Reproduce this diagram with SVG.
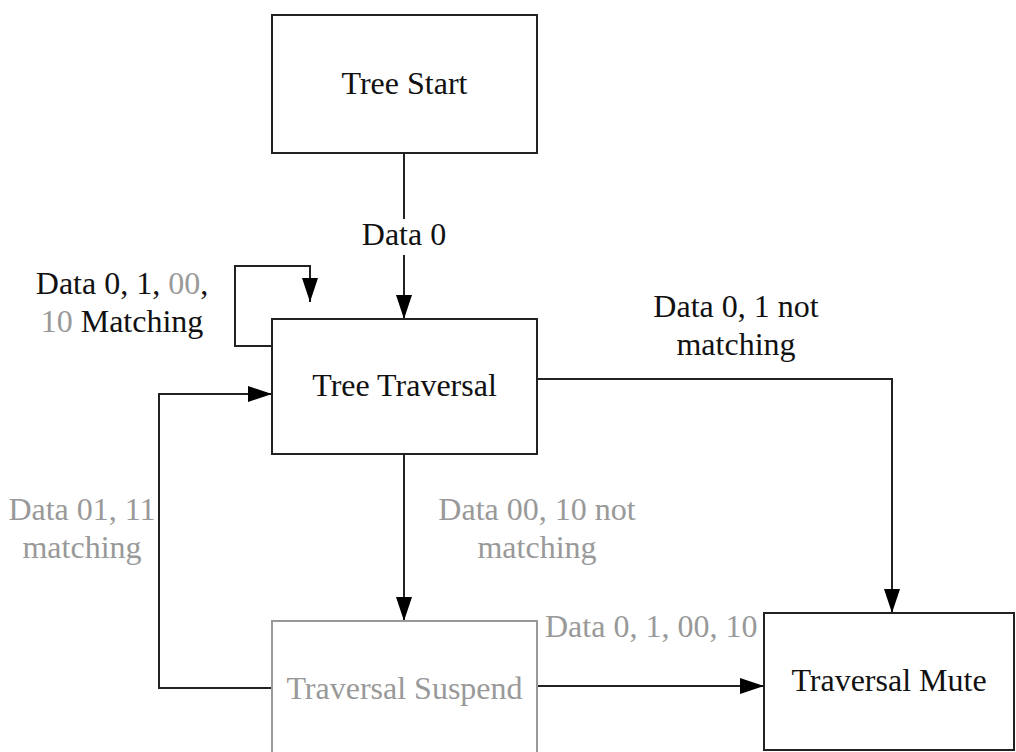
<svg xmlns="http://www.w3.org/2000/svg" width="1016" height="752" viewBox="0 0 1016 752">
  <style>
    text { font-family: "Liberation Serif", "Times New Roman", serif; font-size: 32px; fill: #111; }
    .g { fill: #999; }
    .k { fill: #111; }
    .mid { text-anchor: middle; }
    .box { fill: #fff; stroke: #222; stroke-width: 2; }
    .box.dim { stroke: #999; }
    .edge { fill: none; stroke: #222; stroke-width: 2; }
  </style>
  <defs>
    <marker id="arrow" markerUnits="userSpaceOnUse" markerWidth="24" markerHeight="16" refX="24" refY="8" orient="auto">
      <path d="M0,0 L24,8 L0,16 Z" fill="#000"/>
    </marker>
  </defs>
  <rect width="1016" height="752" fill="#fff"/>

  <g id="connectors">
    <!-- start -> traversal, split around its label -->
    <path class="edge" d="M404,153 V219"/>
    <path class="edge" d="M404,255 V319" marker-end="url(#arrow)"/>
    <!-- self loop -->
    <path class="edge" d="M272,346 H235 V266 H310 V302" marker-end="url(#arrow)"/>
    <!-- suspend -> traversal -->
    <path class="edge" d="M272,688 H159 V394 H272" marker-end="url(#arrow)"/>
    <!-- traversal -> mute -->
    <path class="edge" d="M537,379 H892 V613" marker-end="url(#arrow)"/>
    <!-- traversal -> suspend -->
    <path class="edge" d="M404,454 V621" marker-end="url(#arrow)"/>
    <!-- suspend -> mute -->
    <path class="edge" d="M537,686 H764" marker-end="url(#arrow)"/>

    <text class="mid" x="404" y="245">Data 0</text>
    <text class="mid" x="122" y="294">Data 0, 1, <tspan class="g">00</tspan>,</text>
    <text class="mid" x="122" y="332"><tspan class="g">10</tspan> Matching</text>
    <text class="mid" x="736" y="317">Data 0, 1 not</text>
    <text class="mid" x="736" y="355">matching</text>
    <text class="mid g" x="537" y="520">Data 00, 10 not</text>
    <text class="mid g" x="537" y="558">matching</text>
    <text class="mid g" x="82" y="520">Data 01, 11</text>
    <text class="mid g" x="82" y="558">matching</text>
    <text class="g" x="545" y="637">Data 0, 1, 00, 10</text>
  </g>

  <g id="tree-start">
    <rect class="box" x="272" y="15" width="265" height="138"/>
    <text class="mid" x="404.5" y="94">Tree Start</text>
  </g>

  <g id="tree-traversal">
    <rect class="box" x="272" y="319" width="265" height="135"/>
    <text class="mid" x="404.5" y="396">Tree Traversal</text>
  </g>

  <g id="traversal-suspend">
    <rect class="box dim" x="272" y="621" width="265" height="136"/>
    <text class="mid g" x="404.5" y="699">Traversal Suspend</text>
  </g>

  <g id="traversal-mute">
    <rect class="box" x="764" y="613" width="250" height="137"/>
    <text class="mid" x="889" y="691">Traversal Mute</text>
  </g>
</svg>
